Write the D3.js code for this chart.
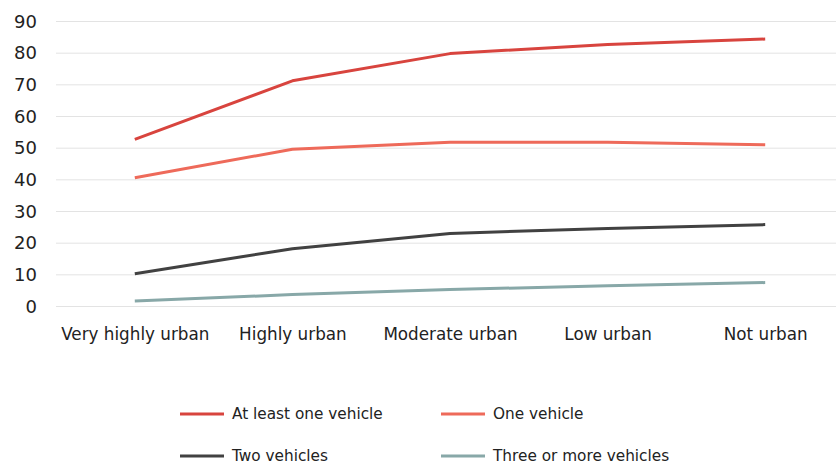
<!DOCTYPE html>
<html><head><meta charset="utf-8">
<script src="https://cdn.jsdelivr.net/npm/d3@7"></script>
<style>body{margin:0;background:#fff}svg{display:block}text{font-family:"DejaVu Sans",sans-serif;fill:#222}</style>
</head><body><svg id="c" width="836" height="464"></svg>
<script>
const categories = ["Very highly urban","Highly urban","Moderate urban","Low urban","Not urban"];
const seriesNames = ["At least one vehicle","One vehicle","Two vehicles","Three or more vehicles"];
const atLeastOne = [52.6,71.1,79.7,82.6,84.3];
const oneVehicle = [40.5,49.5,51.7,51.7,50.9];
const twoVehicles = [10.2,18.1,22.9,24.5,25.7];
const threePlus = [1.6,3.6,5.2,6.4,7.4];
const yTicks = [0,10,20,30,40,50,60,70,80,90];
const colors = ["#d8443e","#ee6a5a","#414141","#88a8a8"];

const svg = d3.select("#c");
const x = d3.scalePoint().domain(categories).range([134.8,765.2]);
const y = d3.scaleLinear().domain([0,90]).range([306,21]);

// gridlines
svg.append("g").selectAll("line").data(yTicks).join("line")
  .attr("x1",56).attr("x2",836).attr("y1",d=>y(d)+0.5).attr("y2",d=>y(d)+0.5)
  .attr("stroke","#e3e3e3").attr("stroke-width",1);

// y axis
const ya = svg.append("g").attr("transform","translate(37,0)")
  .call(d3.axisLeft(y).tickValues(yTicks).tickSize(0).tickPadding(0));
ya.select(".domain").remove();
ya.selectAll("text").style("font-size","18px").attr("fill","#1e1e1e").attr("dy","0.35em");

// x axis
const xa = svg.append("g").attr("transform","translate(0,306)")
  .call(d3.axisBottom(x).tickSize(0).tickPadding(22));
xa.select(".domain").remove();
xa.selectAll("text").style("font-size","16.8px").attr("fill","#1e1e1e");

const data = [atLeastOne,oneVehicle,twoVehicles,threePlus];
const line = d3.line().x((d,i)=>x(categories[i])).y(d=>y(d));
svg.append("g").selectAll("path").data(data).join("path")
  .attr("d",line).attr("fill","none").attr("stroke",(d,i)=>colors[i])
  .attr("stroke-width",3).attr("stroke-linejoin","round");

// legend
const legPos = [[180,414],[441,414],[180,456],[441,456]];
const lg = svg.append("g").selectAll("g").data(seriesNames).join("g")
  .attr("transform",(d,i)=>`translate(${legPos[i][0]},${legPos[i][1]})`);
lg.append("line").attr("x1",0).attr("x2",44).attr("y1",0).attr("y2",0)
  .attr("stroke",(d,i)=>colors[i]).attr("stroke-width",3);
lg.append("text").attr("x",52).attr("y",0).attr("dy","0.35em")
  .style("font-size","15.3px").attr("fill","#1e1e1e").text(d=>d);
</script></body></html>
